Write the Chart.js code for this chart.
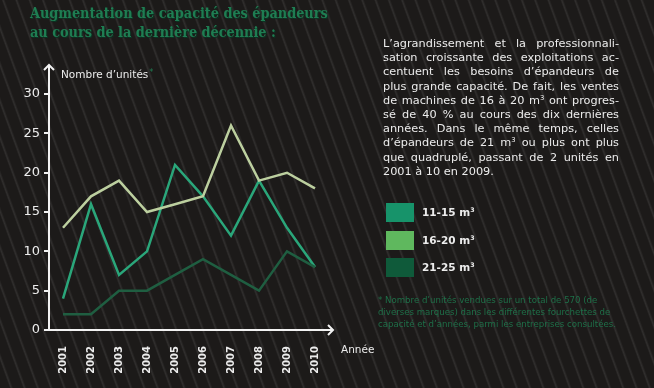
<!DOCTYPE html>
<html>
<head>
<meta charset="utf-8">
<script src="https://cdn.jsdelivr.net/npm/chart.js@4"></script>
<style>
  html, body { margin: 0; padding: 0; }
  body {
    width: 654px; height: 388px; position: relative; overflow: hidden;
    background-color: #1c1a19;
    background-image: repeating-linear-gradient(70deg, rgba(255,255,255,0) 0px, rgba(255,255,255,0) 9px, rgba(255,255,255,0.09) 10.5px, rgba(255,255,255,0) 12.5px);
    font-family: "DejaVu Sans", sans-serif;
  }
  #wrap { position: absolute; left: 0; top: 0; width: 654px; height: 388px; }
  .title {
    position: absolute; left: 30px; top: 4px; margin: 0;
    font-family: "DejaVu Serif Condensed", "DejaVu Serif", serif; font-stretch: condensed;
    font-weight: bold; font-size: 14.3px;
    line-height: 19px; color: #1f7d52; text-shadow: 1px 1px 0 #0c3322; white-space: nowrap;
  }
  .texte {
    position: absolute; left: 383px; top: 37px; width: 236px;
    font-size: 11.3px; line-height: 14.2px; color: #ececec;
  }
  .texte span { display: block; text-align: justify; text-align-last: justify; white-space: nowrap; }
  .texte span.last { text-align-last: left; }
  .legende { position: absolute; left: 386px; top: 203px; }
  .legende div { height: 27.5px; width: 120px; position: relative; }
  .legende i { position: absolute; left: 0; top: 0; width: 28px; height: 19px; }
  .legende b { position: absolute; left: 36px; top: 3px; font-size: 10.5px; color: #ececec; white-space: nowrap; }
  .note {
    position: absolute; left: 378px; top: 294px; width: 250px;
    font-size: 8.6px; line-height: 12px; color: #1e6f48;
  }
  sup { font-size: 0.6em; vertical-align: 0.6em; line-height: 0; }
</style>
</head>
<body>
<div id="wrap"><canvas id="grafico" width="654" height="388"></canvas></div>
<h1 class="title">Augmentation de capacité des épandeurs<br>au cours de la dernière décennie :</h1>
<div class="texte">
  <span>L’agrandissement et la professionnali-</span>
  <span>sation croissante des exploitations ac-</span>
  <span>centuent les besoins d’épandeurs de</span>
  <span>plus grande capacité. De fait, les ventes</span>
  <span>de machines de 16 à 20 m<sup>3</sup> ont progres-</span>
  <span>sé de 40 % au cours des dix dernières</span>
  <span>années. Dans le même temps, celles</span>
  <span>d’épandeurs de 21 m<sup>3</sup> ou plus ont plus</span>
  <span>que quadruplé, passant de 2 unités en</span>
  <span class="last">2001 à 10 en 2009.</span>
</div>
<div class="legende" id="legende"></div>
<div class="note">* Nombre d’unités vendues sur un total de 570 (de<br>diverses marques) dans les différentes fourchettes de<br>capacité et d’années, parmi les entreprises consultées.</div>

<script>
const annees = ['2001', '2002', '2003', '2004', '2005', '2006', '2007', '2008', '2009', '2010'];
const serie11a15 = [4, 16, 7, 10, 21, 17, 12, 19, 13, 8];
const serie16a20 = [13, 17, 19, 15, 16, 17, 26, 19, 20, 18];
const serie21a25 = [2, 2, 5, 5, 7, 9, 7, 5, 10, 8];
const nomsSeries = ['11-15 m³', '16-20 m³', '21-25 m³'];
const couleursLignes = ['#2aa67a', '#bccf9f', '#1f5e41'];
const couleursLegende = ['#17936a', '#5fb85e', '#0f5a3a'];

// flèches des axes et titres d'axes
const axesPlugin = {
    id: 'axes',
    afterDraw(chart) {
        const ctx = chart.ctx;
        const a = chart.chartArea;
        ctx.save();
        ctx.strokeStyle = '#f2f2f2';
        ctx.lineWidth = 2;
        // axe y
        ctx.beginPath();
        ctx.moveTo(a.left, a.bottom);
        ctx.lineTo(a.left, a.top);
        ctx.moveTo(a.left - 5, a.top + 5);
        ctx.lineTo(a.left, a.top);
        ctx.lineTo(a.left + 5, a.top + 5);
        // axe x
        ctx.moveTo(a.left, a.bottom);
        ctx.lineTo(a.right + 4, a.bottom);
        ctx.moveTo(a.right - 1, a.bottom - 5);
        ctx.lineTo(a.right + 4, a.bottom);
        ctx.lineTo(a.right - 1, a.bottom + 5);
        ctx.stroke();
        ctx.font = '10.5px "DejaVu Sans"';
        ctx.fillStyle = '#ececec';
        ctx.textBaseline = 'middle';
        ctx.fillText('Nombre d’unités', a.left + 12, a.top + 10);
        const w = ctx.measureText('Nombre d’unités').width;
        ctx.fillStyle = '#1f7d52';
        ctx.font = '8px "DejaVu Sans"';
        ctx.fillText('*', a.left + 13 + w, a.top + 8);
        ctx.font = '10.5px "DejaVu Sans"';
        ctx.fillStyle = '#ececec';
        ctx.fillText('Année', a.right + 12, a.bottom + 20);
        ctx.restore();
    }
};

const ctx = document.getElementById('grafico').getContext('2d');
const chart = new Chart(ctx, {
    type: 'line',
    data: {
        labels: annees,
        datasets: [serie21a25, serie16a20, serie11a15].map(function(d, i) {
            const k = 2 - i;
            return {
                label: nomsSeries[k],
                data: d,
                borderColor: couleursLignes[k],
                backgroundColor: couleursLegende[k],
                borderWidth: 2.5,
                pointRadius: 0,
                tension: 0,
                fill: false
            };
        })
    },
    options: {
        responsive: false,
        animation: false,
        layout: { padding: { left: 0, top: 65, right: 325, bottom: 0 } },
        plugins: {
            legend: { display: false },
            tooltip: { enabled: false }
        },
        scales: {
            x: {
                offset: true,
                grid: { display: false },
                border: { display: false },
                ticks: {
                    color: '#ececec',
                    font: { family: 'DejaVu Sans', size: 10, weight: 'bold' },
                    minRotation: 90, maxRotation: 90,
                    padding: 8
                },
                afterFit(scale) { scale.height = 58; }
            },
            y: {
                min: 0, max: 33.7,
                grid: { drawOnChartArea: false, drawTicks: true, tickLength: 5, color: '#f2f2f2', lineWidth: 2 },
                border: { display: false },
                ticks: {
                    color: '#ececec',
                    stepSize: 5,
                    font: { family: 'DejaVu Sans', size: 13 },
                    padding: 4
                },
                afterBuildTicks(scale) {
                    scale.ticks = scale.ticks.filter(t => t.value % 5 === 0);
                },
                afterFit(scale) { scale.width = 49; }
            }
        }
    },
    plugins: [axesPlugin]
});

// légende HTML construite depuis les séries
const leg = document.getElementById('legende');
nomsSeries.forEach(function(nom, i) {
    const d = document.createElement('div');
    d.innerHTML = '<i style="background:' + couleursLegende[i] + '"></i><b>' + nom.replace('³', '<sup>3</sup>') + '</b>';
    leg.appendChild(d);
});
</script>
</body>
</html>
